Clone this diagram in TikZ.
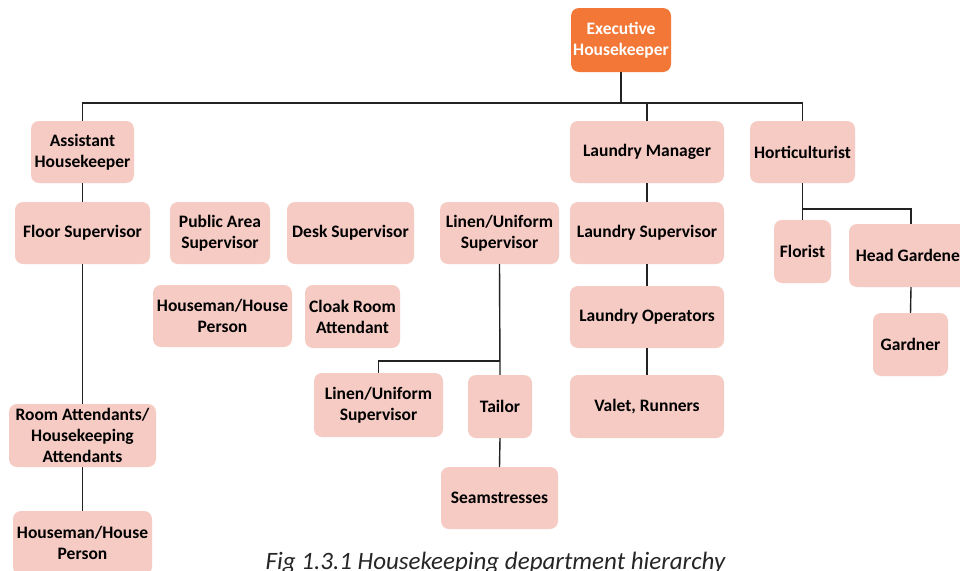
\documentclass[tikz,border=0pt]{standalone}
\usepackage{fontspec}
\setmainfont{Carlito}
\begin{document}
\definecolor{pinkbox}{HTML}{F5CBC4}
\definecolor{orangebox}{HTML}{F37736}
\definecolor{linkline}{HTML}{222222}
\definecolor{captiongray}{HTML}{262626}
\tikzset{
  box/.style={rounded corners=8pt, fill=pinkbox, draw=none, align=center,
    inner sep=0pt, font=\fontsize{17.5}{21}\selectfont\bfseries, text=black},
  topbox/.style={box, fill=orangebox, text=white},
  link/.style={draw=linkline, line width=1.4pt}
}
\begin{tikzpicture}[x=1pt,y=-1pt]
\clip (0,0) rectangle (960,570);
\fill[white] (0,0) rectangle (960,570);

% head of department
\node[topbox, minimum width=100pt, minimum height=64pt] (exec) at (621,40) {Executive\\Housekeeper};

% second level
\node[box, minimum width=103pt, minimum height=62pt] (asst) at (82.5,152) {Assistant\\Housekeeper};
\node[box, minimum width=154pt, minimum height=62pt] (lmgr) at (647,152) {Laundry Manager};
\node[box, minimum width=105pt, minimum height=62pt] (hort) at (802.5,152) {Horticulturist};

% supervisors
\node[box, minimum width=135pt, minimum height=62pt] (floor) at (82.5,233) {Floor Supervisor};
\node[box, minimum width=100pt, minimum height=62pt] (public) at (220,233) {Public Area\\Supervisor};
\node[box, minimum width=127pt, minimum height=62pt] (desk) at (350.5,233) {Desk Supervisor};
\node[box, minimum width=119pt, minimum height=62pt] (linenA) at (499.5,233) {Linen/Uniform\\Supervisor};
\node[box, minimum width=154pt, minimum height=62pt] (lsup) at (647,233) {Laundry Supervisor};

% third row
\node[box, minimum width=139pt, minimum height=62pt] (houseA) at (222.5,316) {Houseman/House\\Person};
\node[box, minimum width=95pt, minimum height=63pt] (cloak) at (352.5,316.5) {Cloak Room\\Attendant};
\node[box, minimum width=154pt, minimum height=62pt] (lop) at (647,317) {Laundry Operators};
\node[box, minimum width=57pt, minimum height=63pt] (florist) at (802.5,251.5) {Florist};
\node[box, minimum width=124pt, minimum height=63pt] (headg) at (911,255.5) {Head Gardener};
\node[box, minimum width=75pt, minimum height=63pt] (gard) at (910.5,344.5) {Gardner};

% fourth row
\node[box, minimum width=129pt, minimum height=64pt] (linenB) at (378.5,405) {Linen/Uniform\\Supervisor};
\node[box, minimum width=64pt, minimum height=63pt] (tailor) at (500,406.5) {Tailor};
\node[box, minimum width=154pt, minimum height=63pt] (valet) at (647,406.5) {Valet, Runners};
\node[box, minimum width=147pt, minimum height=63pt] (room) at (82.5,435.5) {Room Attendants/\\Housekeeping\\Attendants};

% bottom row
\node[box, minimum width=117pt, minimum height=62pt] (seam) at (499.5,498) {Seamstresses};
\node[box, minimum width=139pt, minimum height=64pt] (houseB) at (82.5,543) {Houseman/House\\Person};

% junction points
\coordinate (bus) at (621,103);
\coordinate (linenjoin) at (500,361);
\coordinate (hortjoin) at (802.5,209);

% connectors
\draw[link] (exec.south) -- (bus);
\draw[link] (asst.north) |- (bus) -| (hort.north);
\draw[link] (bus -| lmgr.north) -- (lmgr.north);
\draw[link] (asst.south) -- (floor.north);
\draw[link] (floor.south) -- (room.north);
\draw[link] (room.south) -- (houseB.north);
\draw[link] (linenA.south) -- (tailor.north);
\draw[link] (linenjoin) -| (linenB.north);
\draw[link] (tailor.south) -- (seam.north);
\draw[link] (lmgr.south) -- (lsup.north);
\draw[link] (lsup.south) -- (lop.north);
\draw[link] (lop.south) -- (valet.north);
\draw[link] (hort.south) -- (florist.north);
\draw[link] (hortjoin) -| (headg.north);
\draw[link] (headg.south) -- (gard.north);

% caption
\node[anchor=base, font=\fontsize{25}{29}\selectfont\itshape, text=captiongray] (caption) at (495.5,569) {Fig 1.3.1 Housekeeping department hierarchy};
\end{tikzpicture}
\end{document}
